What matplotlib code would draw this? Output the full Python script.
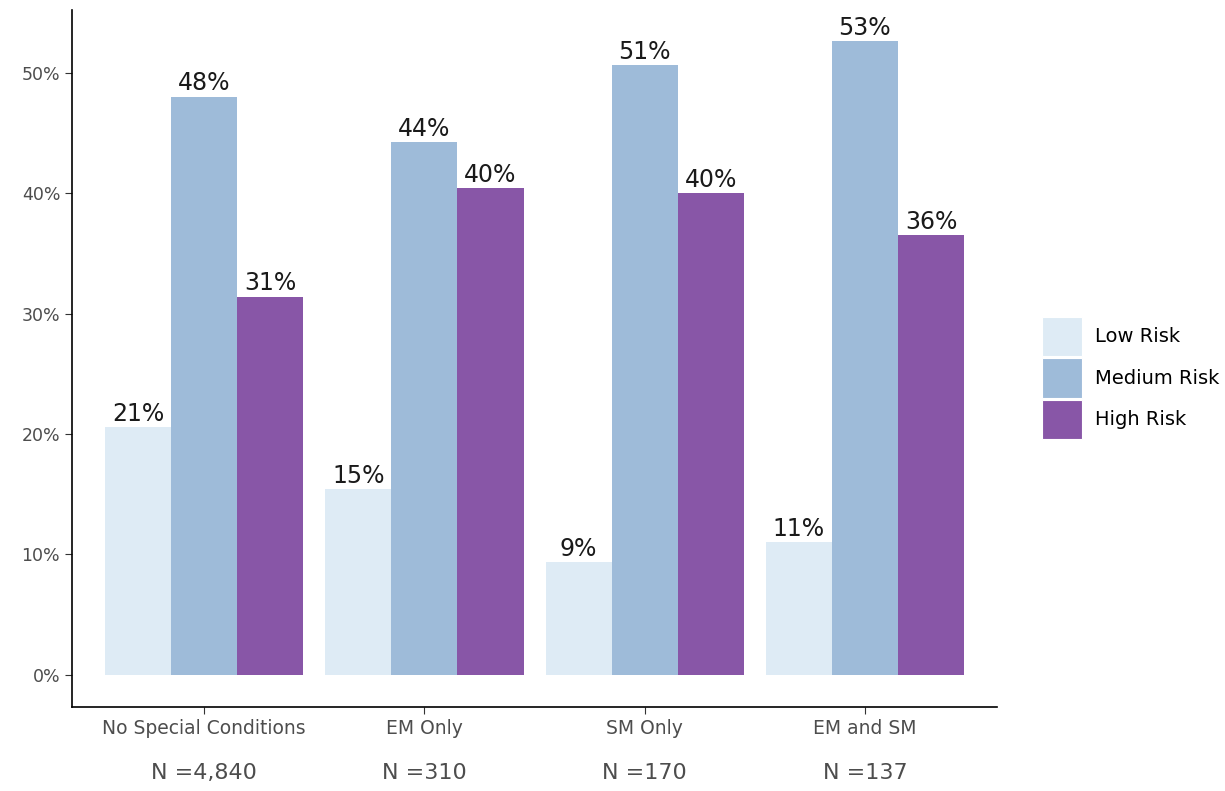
import numpy as np
import matplotlib
matplotlib.use("Agg")
import matplotlib.pyplot as plt

plt.rcParams["font.family"] = ["DejaVu Sans"]

GROUPS = ["No Special Conditions", "EM Only", "SM Only", "EM and SM"]
N_LABELS = ["N =4,840", "N =310", "N =170", "N =137"]
RISKS = ["Low Risk", "Medium Risk", "High Risk"]
LOW = [20.6, 15.4, 9.4, 11.0]
MEDIUM = [48.0, 44.2, 50.6, 52.6]
HIGH = [31.4, 40.4, 40.0, 36.5]
COLORS = ["#deebf5", "#9ebbd9", "#8856a7"]

fig = plt.figure(figsize=(12.25, 7.91), dpi=100)
ax = fig.add_axes([0.0588, 0.1062, 0.7551, 0.8812])

x = np.arange(1, len(GROUPS) + 1)
w = 0.3
for i, (vals, col, name) in enumerate(zip([LOW, MEDIUM, HIGH], COLORS, RISKS)):
    xs = x + (i - 1) * w
    ax.bar(xs, vals, width=w, color=col, label=name, linewidth=0)
    for xi, v in zip(xs, vals):
        ax.text(xi, v + 0.1, f"{round(v):.0f}%", ha="center", va="bottom",
                fontsize=17, color="#1a1a1a")

ax.set_xlim(0.4, 4.6)
ax.set_ylim(-2.66, 55.2)
ax.set_yticks(range(0, 51, 10))
ax.set_yticklabels([f"{t}%" for t in range(0, 51, 10)])
ax.set_xticks(x)
ax.set_xticklabels(GROUPS)
ax.tick_params(axis="both", colors="#333333", labelcolor="#4d4d4d",
               labelsize=12.5, length=5)
ax.tick_params(axis="x", labelsize=13.5)
for s in ["top", "right"]:
    ax.spines[s].set_visible(False)
for s in ["left", "bottom"]:
    ax.spines[s].set_color("black")
    ax.spines[s].set_linewidth(1.2)

for xi, n in zip(x, N_LABELS):
    ax.text(xi, -0.095, n, transform=ax.get_xaxis_transform(),
            ha="center", va="center", fontsize=16, color="#4d4d4d")

leg = ax.legend(loc="center left", bbox_to_anchor=(1.03, 0.472), frameon=False,
                fontsize=14, handlelength=2.05, handleheight=2.75,
                labelspacing=0.1, handletextpad=0.65)
for h in leg.legend_handles:
    h.set_edgecolor("white")
    h.set_linewidth(0.8)

fig.savefig("out.png", dpi=100)
